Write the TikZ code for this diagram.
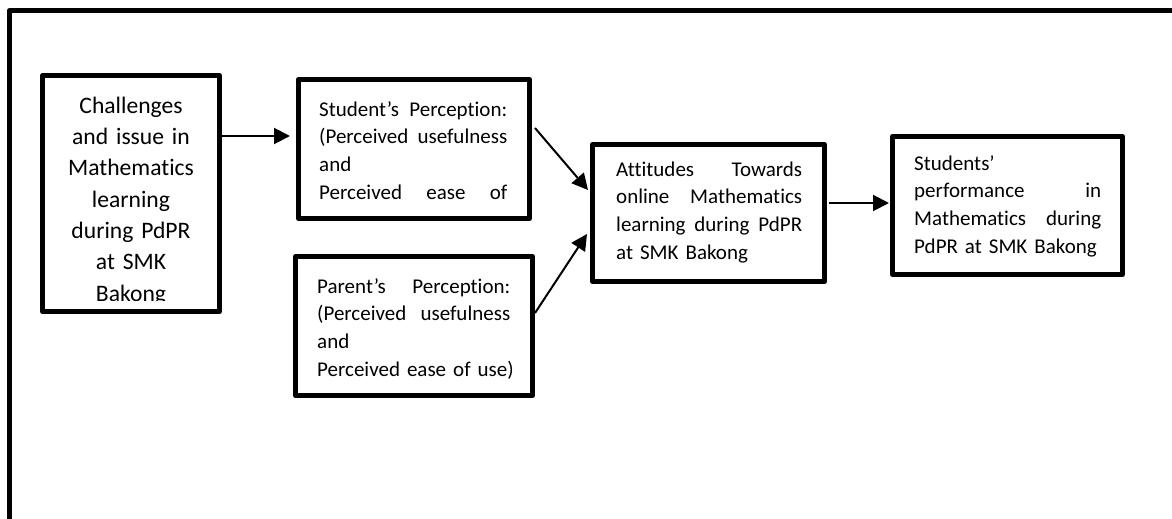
\documentclass[tikz,border=0pt]{standalone}
\usepackage{fontspec}
\setmainfont{Carlito}[Ligatures=NoCommon]
\usetikzlibrary{arrows.meta}
\tikzset{
  boxshape/.style={draw, line width=5pt, line join=round, inner sep=0pt, outer sep=2.5pt},
  link/.style={line width=2pt, -{Triangle[length=16pt,width=16pt]}},
  body/.style={font=\fontsize{21}{27.7}\selectfont, align=left, anchor=north west, inner sep=0pt},
  bigbody/.style={font=\fontsize{23.6}{31.3}\selectfont, align=center, anchor=north, inner sep=0pt, text width=180pt},
}
\begin{document}
\begin{tikzpicture}[x=1pt,y=-1pt]
\useasboundingbox (0,0) rectangle (1172,519);
% outer frame (only top and left edges are visible)
\draw[line width=4.8pt, line join=round] (9.8,530) -- (9.8,10.5) -- (1185,10.5);

% boxes
\node[boxshape, minimum width=177pt, minimum height=236pt] (a) at (131,193.5) {};
\node[boxshape, minimum width=231pt, minimum height=139pt] (b) at (414,149) {};
\node[boxshape, minimum width=237pt, minimum height=139pt] (c) at (414,326) {};
\node[boxshape, minimum width=232pt, minimum height=137pt] (d) at (708.5,213) {};
\node[boxshape, minimum width=230pt, minimum height=138pt] (e) at (1007.5,205.5) {};

% texts
\begin{scope}
\clip (45,78) rectangle (217,300.7);
\node[bigbody] (ta) at (131,91) {\rule{0pt}{22pt}Challenges\\and issue in\\Mathematics\\learning\\during PdPR\\at SMK\\Bakong};
\end{scope}
\node[body, text width=188pt] (tb) at (319,97) {\rule{0pt}{19pt}Student’s \hfill Perception:\\(Perceived \hfill usefulness\\and\\Perceived \hfill ease \hfill of};
\node[body, text width=193pt] (tc) at (317,274) {\rule{0pt}{19pt}Parent’s \hfill Perception:\\(Perceived \hfill usefulness\\and\\\mbox{Perceived ease of use)}};
\node[body, text width=186pt] (td) at (616,157) {\rule{0pt}{19pt}Attitudes \hfill Towards\\online \hfill Mathematics\\learning \hfill during \hfill PdPR\\at SMK Bakong};
\node[body, text width=187pt] (te) at (914,151) {\rule{0pt}{19pt}Students’\\performance \hfill in\\Mathematics \hfill during\\PdPR at SMK Bakong};

% connectors
\draw[link] ([yshift=57.5pt]a.east) -- ([xshift=-6pt,yshift=13pt]b.west);
\draw[link] ([xshift=3pt,yshift=21pt]b.east) -- ([xshift=-2pt,yshift=23pt]d.west);
\draw[link] ([yshift=13pt]c.east) -- ([xshift=-3pt,yshift=-21pt]d.west);
\draw[link] ([xshift=2pt,yshift=10pt]d.east) -- ([xshift=-1pt,yshift=2.5pt]e.west);
\end{tikzpicture}
\end{document}
